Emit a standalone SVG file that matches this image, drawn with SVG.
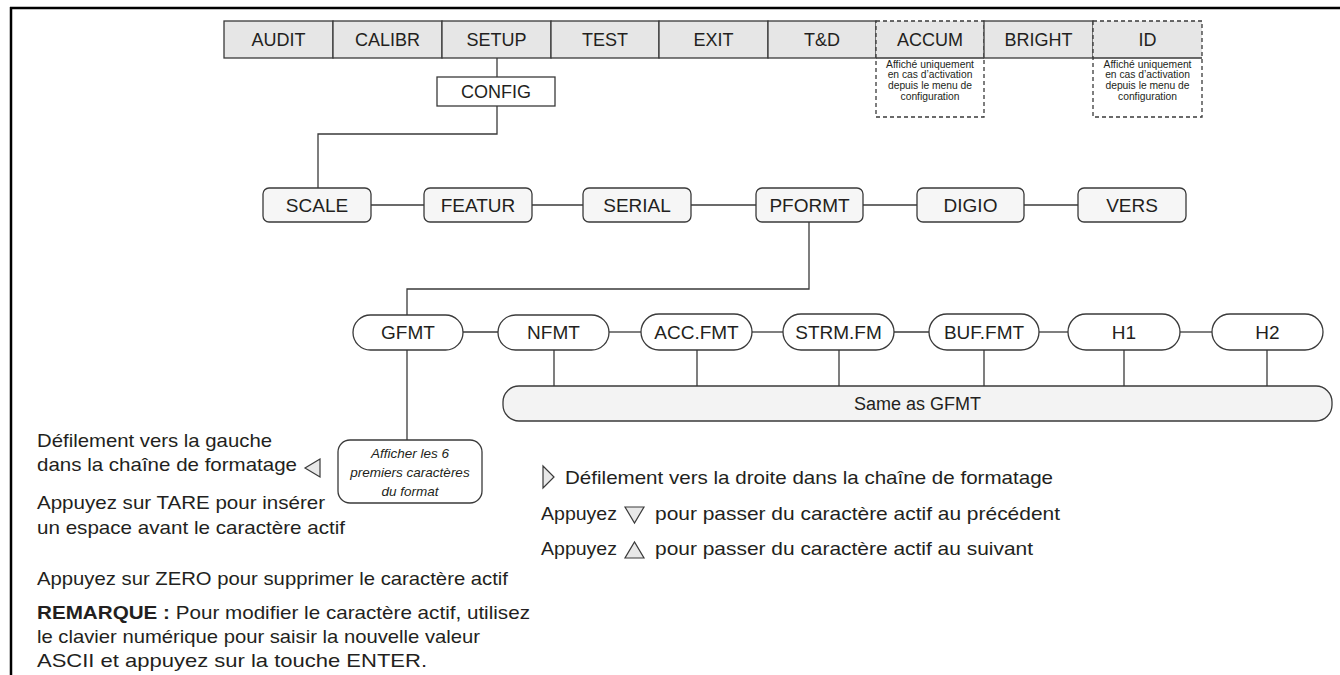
<svg xmlns="http://www.w3.org/2000/svg" width="1340" height="675" viewBox="0 0 1340 675">
<style>
text{font-family:"Liberation Sans",Arial,sans-serif;fill:#231f20}
.cell{fill:#e6e6e6;stroke:#3a3a3a;stroke-width:1.3}
.cellfill{fill:#e6e6e6;stroke:none}
.dash{fill:none;stroke:#3a3a3a;stroke-width:1.3;stroke-dasharray:4 3}
.t18{font-size:18px;text-anchor:middle}
.t19{font-size:19px;text-anchor:middle}
.box{fill:#f6f6f6;stroke:#3a3a3a;stroke-width:1.3}
.pill{fill:#ffffff;stroke:#3a3a3a;stroke-width:1.3}
.conn{fill:none;stroke:#3a3a3a;stroke-width:1.3}
.small{font-size:10.3px;text-anchor:middle}
.ital{font-size:13.5px;font-style:italic;text-anchor:middle}
.body{font-size:18.5px}
.tri{fill:#e8e8e8;stroke:#3a3a3a;stroke-width:1.2;stroke-linejoin:miter}
</style>
<rect width="1340" height="675" fill="#ffffff"/>
<g id="frame">
<line x1="10" y1="8" x2="1340" y2="8" stroke="#000" stroke-width="2.5"/>
<line x1="11" y1="7" x2="11" y2="675" stroke="#000" stroke-width="2.5"/>
</g>
<g id="connectors">
<line class="conn" x1="497" y1="58" x2="497" y2="77"/>
<path class="conn" d="M497,106 V134 H318 V188"/>
<line class="conn" x1="371" y1="205" x2="424" y2="205"/>
<line class="conn" x1="532" y1="205" x2="583" y2="205"/>
<line class="conn" x1="691" y1="205" x2="756" y2="205"/>
<line class="conn" x1="863" y1="205" x2="917" y2="205"/>
<line class="conn" x1="1024" y1="205" x2="1078" y2="205"/>
<path class="conn" d="M809,222 V289 H407 V315"/>
<line class="conn" x1="463" y1="332" x2="498" y2="332"/>
<line class="conn" x1="609" y1="332" x2="641" y2="332"/>
<line class="conn" x1="752" y1="332" x2="783" y2="332"/>
<line class="conn" x1="894" y1="332" x2="929" y2="332"/>
<line class="conn" x1="1039" y1="332" x2="1068" y2="332"/>
<line class="conn" x1="1180" y1="332" x2="1212" y2="332"/>
<line class="conn" x1="554" y1="350" x2="554" y2="386"/>
<line class="conn" x1="697" y1="350" x2="697" y2="386"/>
<line class="conn" x1="839" y1="350" x2="839" y2="386"/>
<line class="conn" x1="984" y1="350" x2="984" y2="386"/>
<line class="conn" x1="1124" y1="350" x2="1124" y2="386"/>
<line class="conn" x1="1267" y1="350" x2="1267" y2="386"/>
<line class="conn" x1="407" y1="350" x2="407" y2="440"/>
</g>
<g id="menu-audit"><rect class="cell" x="224" y="21" width="109" height="37"/><text class="t18" x="278.5" y="46">AUDIT</text></g>
<g id="menu-calibr"><rect class="cell" x="333" y="21" width="109" height="37"/><text class="t18" x="387.5" y="46">CALIBR</text></g>
<g id="menu-setup"><rect class="cell" x="442" y="21" width="109" height="37"/><text class="t18" x="496.5" y="46">SETUP</text></g>
<g id="menu-test"><rect class="cell" x="551" y="21" width="108" height="37"/><text class="t18" x="605" y="46">TEST</text></g>
<g id="menu-exit"><rect class="cell" x="659" y="21" width="109" height="37"/><text class="t18" x="713.5" y="46">EXIT</text></g>
<g id="menu-td"><rect class="cell" x="768" y="21" width="108" height="37"/><text class="t18" x="822" y="46">T&amp;D</text></g>
<g id="menu-accum">
<rect class="cellfill" x="876" y="21" width="108" height="37"/>
<line class="conn" x1="876" y1="58" x2="984" y2="58"/>
<rect class="dash" x="876" y="21" width="108" height="96"/>
<text class="t18" x="930" y="46">ACCUM</text>
<text class="small" x="930" y="67.5">Affiché uniquement</text>
<text class="small" x="930" y="78.2">en cas d’activation</text>
<text class="small" x="930" y="88.9">depuis le menu de</text>
<text class="small" x="930" y="99.6">configuration</text>
</g>
<g id="menu-bright"><rect class="cell" x="984" y="21" width="109" height="37"/><text class="t18" x="1038.5" y="46">BRIGHT</text></g>
<g id="menu-id">
<rect class="cellfill" x="1093" y="21" width="109" height="37"/>
<line class="conn" x1="1093" y1="58" x2="1202" y2="58"/>
<rect class="dash" x="1093" y="21" width="109" height="96"/>
<text class="t18" x="1147.5" y="46">ID</text>
<text class="small" x="1147.5" y="67.5">Affiché uniquement</text>
<text class="small" x="1147.5" y="78.2">en cas d’activation</text>
<text class="small" x="1147.5" y="88.9">depuis le menu de</text>
<text class="small" x="1147.5" y="99.6">configuration</text>
</g>
<g id="config"><rect x="437" y="77" width="118" height="29" fill="#fff" stroke="#3a3a3a" stroke-width="1.3"/><text class="t18" x="496" y="98">CONFIG</text></g>
<g id="scale"><rect class="box" x="263" y="188" width="108" height="34" rx="6"/><text class="t19" x="317" y="212">SCALE</text></g>
<g id="featur"><rect class="box" x="424" y="188" width="108" height="34" rx="6"/><text class="t19" x="478" y="212">FEATUR</text></g>
<g id="serial"><rect class="box" x="583" y="188" width="108" height="34" rx="6"/><text class="t19" x="637" y="212">SERIAL</text></g>
<g id="pformt"><rect class="box" x="756" y="188" width="107" height="34" rx="6"/><text class="t19" x="809.5" y="212">PFORMT</text></g>
<g id="digio"><rect class="box" x="917" y="188" width="107" height="34" rx="6"/><text class="t19" x="970.5" y="212">DIGIO</text></g>
<g id="vers"><rect class="box" x="1078" y="188" width="108" height="34" rx="6"/><text class="t19" x="1132" y="212">VERS</text></g>
<g id="gfmt"><rect class="pill" x="353" y="315" width="110" height="35" rx="17.5"/><text class="t19" x="408" y="339">GFMT</text></g>
<g id="nfmt"><rect class="pill" x="498" y="315" width="111" height="35" rx="17.5"/><text class="t19" x="553.5" y="339">NFMT</text></g>
<g id="accfmt"><rect class="pill" x="641" y="314" width="111" height="36" rx="18"/><text class="t19" x="696.5" y="339">ACC.FMT</text></g>
<g id="strmfm"><rect class="pill" x="783" y="314" width="111" height="36" rx="18"/><text class="t19" x="838.5" y="339">STRM.FM</text></g>
<g id="buffmt"><rect class="pill" x="929" y="314" width="110" height="36" rx="18"/><text class="t19" x="984" y="339">BUF.FMT</text></g>
<g id="h1"><rect class="pill" x="1068" y="314" width="112" height="36" rx="18"/><text class="t19" x="1124" y="339">H1</text></g>
<g id="h2"><rect class="pill" x="1212" y="314" width="111" height="36" rx="18"/><text class="t19" x="1267.5" y="339">H2</text></g>
<g id="same-as-gfmt"><rect x="503" y="386" width="829" height="35" rx="16" fill="#f3f3f3" stroke="#3a3a3a" stroke-width="1.3"/><text class="t18" x="917.5" y="410">Same as GFMT</text></g>
<g id="gfmt-note"><rect x="338" y="440" width="144" height="63" rx="12" fill="#fff" stroke="#3a3a3a" stroke-width="1.3"/>
<text class="ital" x="410" y="458">Afficher les 6</text>
<text class="ital" x="410" y="477">premiers caractères</text>
<text class="ital" x="410" y="496">du format</text>
</g>
<g id="left-notes">
<text class="body" x="37" y="447" textLength="235" lengthAdjust="spacingAndGlyphs">Défilement vers la gauche</text>
<text class="body" x="37" y="471" textLength="260" lengthAdjust="spacingAndGlyphs">dans la chaîne de formatage</text>
<polygon class="tri" points="320,459 305,468 320,477"/>
<text class="body" x="37" y="509" textLength="288" lengthAdjust="spacingAndGlyphs">Appuyez sur TARE pour insérer</text>
<text class="body" x="37" y="534" textLength="308" lengthAdjust="spacingAndGlyphs">un espace avant le caractère actif</text>
<text class="body" x="37" y="585" textLength="471" lengthAdjust="spacingAndGlyphs">Appuyez sur ZERO pour supprimer le caractère actif</text>
<text class="body" x="37" y="619" textLength="493" lengthAdjust="spacingAndGlyphs"><tspan font-weight="bold">REMARQUE :</tspan> Pour modifier le caractère actif, utilisez</text>
<text class="body" x="37" y="643" textLength="443" lengthAdjust="spacingAndGlyphs">le clavier numérique pour saisir la nouvelle valeur</text>
<text class="body" x="37" y="667" textLength="390" lengthAdjust="spacingAndGlyphs">ASCII et appuyez sur la touche ENTER.</text>
</g>
<g id="right-notes">
<polygon class="tri" points="543,466 554,477 543,488"/>
<text class="body" x="565" y="484" textLength="488" lengthAdjust="spacingAndGlyphs">Défilement vers la droite dans la chaîne de formatage</text>
<text class="body" x="541" y="520" textLength="76" lengthAdjust="spacingAndGlyphs">Appuyez</text>
<polygon class="tri" points="625,507 644,507 634.5,523"/>
<text class="body" x="655" y="520" textLength="405" lengthAdjust="spacingAndGlyphs">pour passer du caractère actif au précédent</text>
<text class="body" x="541" y="555" textLength="76" lengthAdjust="spacingAndGlyphs">Appuyez</text>
<polygon class="tri" points="625,558 644,558 634.5,542"/>
<text class="body" x="655" y="555" textLength="378" lengthAdjust="spacingAndGlyphs">pour passer du caractère actif au suivant</text>
</g>
</svg>
